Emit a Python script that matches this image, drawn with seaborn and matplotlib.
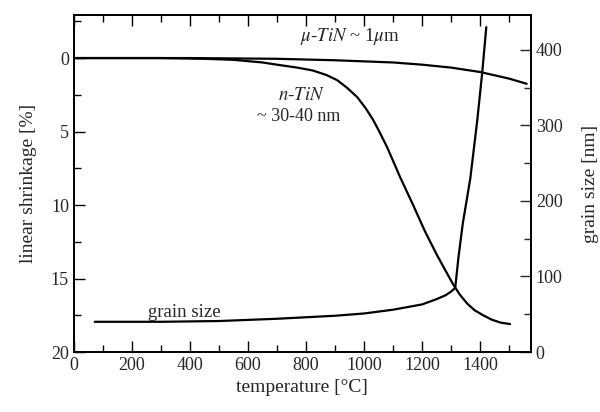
import numpy as np
import pandas as pd
import seaborn as sns
import matplotlib.pyplot as plt
from matplotlib.ticker import MultipleLocator

sns.set_style("ticks")
plt.rcParams['font.family'] = ['Liberation Serif', 'DejaVu Serif']
plt.rcParams['mathtext.fontset'] = 'stix'

# shrinkage of micro TiN  [%]
mu_T = [0, 400, 700, 900, 1100, 1200, 1300, 1400, 1500, 1560]
mu_s = [0, 0, 0.05, 0.15, 0.3, 0.45, 0.65, 0.95, 1.4, 1.75]

# shrinkage of nano TiN [%]
n_T = [0, 300, 450, 550, 650, 710, 770, 824, 870, 907, 940, 976, 1005, 1031,
       1055, 1079, 1100, 1124, 1169, 1210, 1251, 1290, 1307, 1330, 1355, 1380,
       1410, 1440, 1470, 1503]
n_s = [0, 0, 0.05, 0.12, 0.3, 0.48, 0.65, 0.85, 1.15, 1.5, 2.0, 2.65, 3.4, 4.2,
       5.1, 6.05, 7.0, 8.1, 10.0, 11.8, 13.4, 14.8, 15.4, 16.1, 16.7, 17.15,
       17.5, 17.8, 18.0, 18.1]

# grain size of nano TiN [nm]
g_T = [72, 300, 500, 700, 900, 1000, 1100, 1200, 1250, 1280, 1300, 1314,
       1325, 1340, 1366, 1390, 1407, 1421]
g_nm = [40, 40, 41, 44, 48, 51, 56, 63, 70, 75, 80, 85, 125, 170, 230, 307,
        370, 430]

mu = pd.DataFrame({'T': mu_T, 's': mu_s})
nano = pd.DataFrame({'T': n_T, 's': n_s})
grain = pd.DataFrame({'T': g_T, 'g': g_nm})

fig = plt.figure(figsize=(6, 4.12), dpi=100)
ax = fig.add_axes([0.123, 0.1456, 0.762, 0.818])

sns.lineplot(data=mu, x='T', y='s', ax=ax, color='black', lw=1.6)
sns.lineplot(data=nano, x='T', y='s', ax=ax, color='black', lw=1.6)
ax.set_xlim(0, 1575)
ax.set_ylim(20, -2.93)

ax2 = ax.twinx()
sns.lineplot(data=grain, x='T', y='g', ax=ax2, color='black', lw=1.6)
ax2.set_ylim(0, 446)

ax.xaxis.set_major_locator(MultipleLocator(200))
ax.xaxis.set_minor_locator(MultipleLocator(100))
ax.yaxis.set_major_locator(MultipleLocator(5))
ax.yaxis.set_minor_locator(MultipleLocator(2.5))
ax2.yaxis.set_major_locator(MultipleLocator(100))
ax2.yaxis.set_minor_locator(MultipleLocator(50))

ax.tick_params(which='both', direction='in', top=True, labelsize=13,
               width=1.0, color='black')
ax.tick_params(which='major', length=8)
ax.tick_params(which='minor', length=5)
ax2.tick_params(which='both', direction='in', labelsize=13, width=1.0)
ax2.tick_params(which='major', length=8)
ax2.tick_params(which='minor', length=5)

for a in (ax, ax2):
    for sp in a.spines.values():
        sp.set_linewidth(1.3)
        sp.set_color('black')

ax.set_xlabel('temperature [°C]', fontsize=14)
ax.set_ylabel('linear shrinkage [%]', fontsize=14, labelpad=10)
ax2.set_ylabel('grain size [nm]', fontsize=14, rotation=90, labelpad=14)

ax.text(950, -1.45, r'$\mu$-$TiN$ ~ 1$\mu$m', fontsize=13.5, ha='center', va='center')
ax.text(865, 2.55, r'$n$-$TiN$', fontsize=13.5, ha='right', va='center')
ax.text(917, 3.95, '~ 30-40 nm', fontsize=13, ha='right', va='center')
ax.text(255, 17.3, 'grain size', fontsize=13.5, ha='left', va='center')

fig.savefig('out.png', dpi=100)
